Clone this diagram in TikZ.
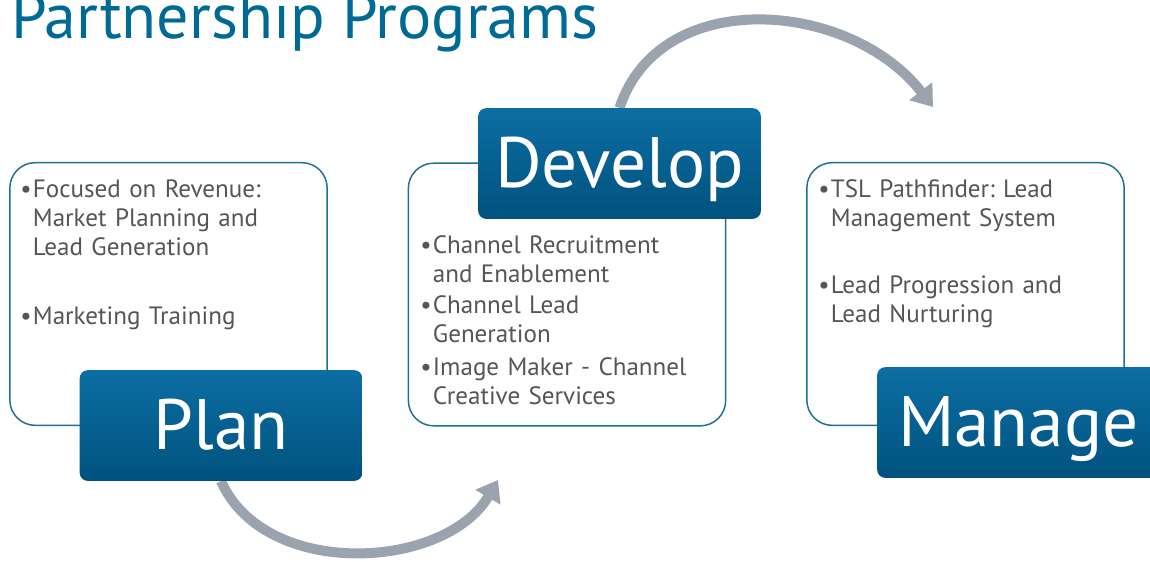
\documentclass[tikz,border=0pt]{standalone}
\usepackage{fontspec}
\setmainfont{PT Sans}
\usetikzlibrary{arrows.meta,positioning}
\pgfdeclarelayer{background}
\pgfsetlayers{background,main}
\definecolor{titleblue}{RGB}{0,106,150}
\definecolor{frameblue}{RGB}{30,110,150}
\definecolor{stagetop}{RGB}{12,110,163}
\definecolor{stagebot}{RGB}{0,82,126}
\definecolor{bodygray}{RGB}{85,85,85}
\definecolor{arrowgray}{RGB}{155,163,175}
\newcommand{\bul}{\makebox[9.5pt][l]{\textbullet}}
\newcommand{\ind}{\hspace*{9.5pt}}
\frenchspacing
\tikzset{
  infobox/.style={draw=frameblue,line width=1.1pt,rounded corners=19pt,
    minimum width=238pt,minimum height=197pt,inner sep=0pt},
  stagebox/.style={rounded corners=6pt,top color=stagetop,bottom color=stagebot,
    minimum width=212pt,minimum height=83pt,inner sep=0pt,text=white,
    font=\fontsize{53.5}{54}\selectfont,text height=36pt,text depth=0pt},
  infotext/.style={anchor=base west,text width=235pt,align=left,inner sep=0pt,
    text=bodygray,font=\fontsize{18.8}{21.75}\selectfont},
  cyclearrow/.style={draw=arrowgray,line width=7.5pt,
    -{Triangle[width=21pt,length=15pt]}}
}

\begin{document}
\begin{tikzpicture}[x=0.75pt,y=-0.75pt]
  \useasboundingbox (0,0) rectangle (1150,561);

  \node[anchor=base west,inner sep=0pt,text=titleblue,
    font=\fontsize{48}{50}\selectfont] (title) at (11,38) {Partnership Programs};

  % content boxes
  \node[infobox] (planbox) at (168.5,294) {};
  \node[infobox] (devbox) at (567,294.5) {};
  \node[infobox] (managebox) at (965.5,294) {};

  \node[infotext] (plantext) at (20,197) {\bul Focused on Revenue:\\
    \ind Market Planning and\\ \ind Lead Generation\\[30pt]
    \bul Marketing Training};
  \node[infotext] (devtext) at (420,253) {\bul Channel Recruitment\\
    \ind and Enablement\\[1.5pt] \bul Channel Lead\\ \ind Generation\\[3.5pt]
    \bul Image Maker - Channel\\ \ind Creative Services};
  \node[infotext] (managetext) at (818,197) {\bul TSL Pathfinder: Lead\\
    \ind Management System\\[29pt] \bul Lead Progression and\\
    \ind Lead Nurturing};

  % stage labels
  \node[stagebox] (plan) at (221,425.5) {Plan};
  \node[stagebox] (develop) at (619.5,163.5) {Develop};
  \node[stagebox] (manage) at (1018.5,422.5) {Manage};

  \coordinate (toDevelop) at (498,480);
  \coordinate (toManage) at (933,107);

  \begin{pgfonlayer}{background}
    \draw[cyclearrow] (plan.south) .. controls (265,580) and (445,570) .. (toDevelop);
    \draw[cyclearrow] (develop.north) .. controls (660,-15) and (850,0) .. (toManage);
  \end{pgfonlayer}
\end{tikzpicture}
\end{document}
